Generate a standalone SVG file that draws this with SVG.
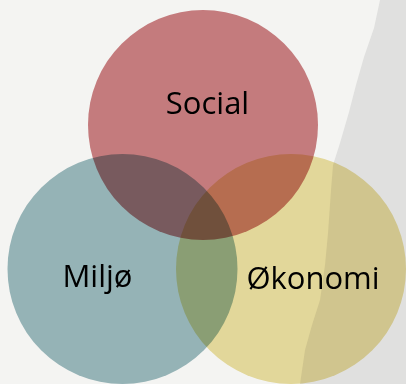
<svg xmlns="http://www.w3.org/2000/svg" width="406" height="384" viewBox="0 0 406 384">
  <style>
    .set { mix-blend-mode: multiply; }
    .label { font-family: "Open Sans", "Noto Sans", "Liberation Sans", sans-serif; font-size: 31px; fill: #000; text-anchor: middle; }
  </style>
  <g id="background">
    <rect x="0" y="0" width="406" height="384" fill="#f4f4f2"/>
    <path d="M380,0 L406,0 L406,384 L300,384 L305,350 L312,325 L320,300 L325,265 L328,233 L331,190 L333,165 L340,143 L349,112 L356,85 L364,57 L374,28 Z" fill="#e0e0df"/>
  </g>
  <g id="social">
    <circle class="set" cx="203" cy="125" r="115" fill="#cd8184"/>
    <text class="label" x="207.5" y="114">Social</text>
  </g>
  <g id="miljo">
    <circle class="set" cx="122.5" cy="269" r="115" fill="#9cbbc0"/>
    <text class="label" x="97.5" y="287">Miljø</text>
  </g>
  <g id="okonomi">
    <circle class="set" cx="291" cy="269" r="115" fill="#ede1a2"/>
    <text class="label" x="313" y="289">Økonomi</text>
  </g>
  <g id="connectors"/>
</svg>
